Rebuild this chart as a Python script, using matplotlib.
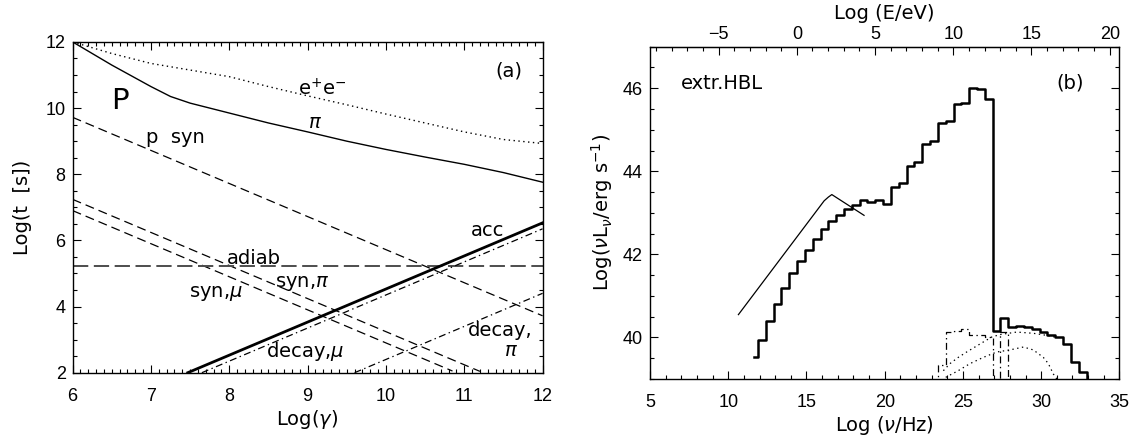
import numpy as np
import matplotlib.pyplot as plt
from matplotlib.ticker import MultipleLocator, FixedLocator

plt.rcParams['font.family'] = ['DejaVu Sans']
plt.rcParams['font.size'] = 14
plt.rcParams['lines.scale_dashes'] = False
plt.rcParams['mathtext.fontset'] = 'dejavusans'

# ---- panel (a): time scales vs Lorentz factor ----
gam_pi = [6, 6.5, 7, 7.25, 7.5, 8, 8.5, 9, 9.5, 10, 10.5, 11, 11.5, 12]
t_pi = [12.0, 11.3, 10.65, 10.35, 10.15, 9.85, 9.55, 9.28, 9.0, 8.75, 8.52, 8.3, 8.05, 7.76]

gam_ee = [6, 6.5, 7, 7.5, 8, 8.5, 9, 9.5, 10, 10.5, 11, 11.5, 12]
t_ee = [12.0, 11.65, 11.35, 11.15, 10.95, 10.65, 10.37, 10.1, 9.82, 9.55, 9.28, 9.05, 8.93]

gam_psyn = [6, 12]
t_psyn = [9.72, 3.72]
gam_synpi = [6, 11.2]
t_synpi = [7.24, 2.04]
gam_synmu = [6, 10.85]
t_synmu = [6.9, 2.05]
gam_adiab = [6, 12]
t_adiab = [5.23, 5.23]
gam_acc = [7.47, 12]
t_acc = [2.0, 6.53]
gam_decmu = [7.65, 12]
t_decmu = [2.0, 6.35]
gam_decpi = [9.6, 12]
t_decpi = [2.0, 4.4]

# ---- panel (b): spectrum of extreme HBL ----
lognu = [11.65, 12.15, 12.65, 13.15, 13.65, 14.15, 14.65, 15.15, 15.65, 16.15,
         16.65, 17.15, 17.65, 18.15, 18.65, 19.15, 19.65, 20.15, 20.65, 21.15,
         21.65, 22.15, 22.65, 23.15, 23.65, 24.15, 24.65, 25.15, 25.65, 26.15,
         26.65, 27.15, 27.65, 28.15, 28.65, 29.15, 29.65, 30.15, 30.65, 31.15,
         31.65, 32.15, 32.65, 33.15]
loglum = [39.52, 39.94, 40.39, 40.80, 41.20, 41.55, 41.84, 42.11, 42.37, 42.61,
          42.81, 42.96, 43.09, 43.20, 43.30, 43.26, 43.30, 43.21, 43.63, 43.71,
          44.13, 44.22, 44.65, 44.73, 45.16, 45.21, 45.63, 45.65, 46.01, 45.98,
          45.75, 40.15, 40.48, 40.25, 40.27, 40.25, 40.21, 40.14, 40.07, 40.00,
          39.85, 39.40, 39.16, 38.00]

obs_nu = [10.65, 16.13, 16.4, 16.62, 18.68]
obs_lum = [40.55, 43.29, 43.38, 43.44, 42.94]

dd1_nu = [22.65, 23.15, 23.65, 24.15, 24.65, 25.15, 25.65, 26.15, 26.65, 27.15]
dd1_lum = [38.0, 38.0, 39.34, 40.13, 40.15, 40.2, 40.07, 40.05, 40.0, 38.0]
dd2_nu = [27.15, 27.65, 28.15]
dd2_lum = [38.0, 40.13, 38.0]

dot1_nu = [23.75, 24.17, 24.7, 25.24, 25.77, 26.3, 26.84, 27.37, 28.44, 29.5, 30.36, 31.0]
dot1_lum = [39.2, 39.37, 39.52, 39.65, 39.77, 39.89, 40.01, 40.07, 40.13, 40.1, 40.05, 40.0]
dot2_nu = [23.9, 24.7, 25.45, 26.3, 27.16, 28.0, 28.87, 29.5, 30.14, 30.46, 30.78, 31.0]
dot2_lum = [39.04, 39.2, 39.37, 39.52, 39.65, 39.7, 39.77, 39.7, 39.52, 39.37, 39.12, 39.0]

E_ticks = [-5, 0, 5, 10, 15, 20]
E_OFFSET = 14.383  # log(h/eV s)

fig = plt.figure(figsize=(11.37, 4.41), dpi=100)
axa = fig.add_axes([0.0639, 0.1549, 0.4133, 0.750])
axb = fig.add_axes([0.5717, 0.1406, 0.4128, 0.7535])

short = (0, (6.5, 3.6))
dashdot = (0, (5, 2.5, 1, 2.5))

axa.plot(gam_pi, t_pi, color='k', lw=1.0)
axa.plot(gam_ee, t_ee, color='k', lw=1.0, linestyle=(0, (1, 2.5)))
axa.plot(gam_psyn, t_psyn, color='k', lw=0.9, linestyle=short)
axa.plot(gam_synpi, t_synpi, color='k', lw=0.9, linestyle=short)
axa.plot(gam_synmu, t_synmu, color='k', lw=0.9, linestyle=short)
axa.plot(gam_adiab, t_adiab, color='0.3', lw=1.4, linestyle=(0, (11, 4)))
axa.plot(gam_acc, t_acc, color='k', lw=2.0)
axa.plot(gam_decmu, t_decmu, color='k', lw=0.9, linestyle=dashdot)
axa.plot(gam_decpi, t_decpi, color='k', lw=0.9, linestyle=dashdot)

axa.text(11.57, 11.13, '(a)', ha='center', va='center')
axa.text(6.6, 10.2, 'P', ha='center', va='center', fontsize=21)
axa.text(9.18, 10.57, r'e$^{+}$e$^{-}$', ha='center', va='center')
axa.text(9.09, 9.55, r'$\pi$', ha='center', va='center')
axa.text(7.31, 9.1, 'p  syn', ha='center', va='center')
axa.text(11.3, 6.3, 'acc', ha='center', va='center')
axa.text(8.31, 5.44, 'adiab', ha='center', va='center')
axa.text(8.93, 4.7, r'syn,$\pi$', ha='center', va='center')
axa.text(7.83, 4.4, r'syn,$\mu$', ha='center', va='center')
axa.text(8.97, 2.63, r'decay,$\mu$', ha='center', va='center')
axa.text(11.46, 3.28, 'decay,', ha='center', va='center')
axa.text(11.6, 2.68, r'$\pi$', ha='center', va='center')

axa.set_xlim(6, 12)
axa.set_ylim(2, 12)
axa.xaxis.set_major_locator(MultipleLocator(1))
axa.xaxis.set_minor_locator(MultipleLocator(0.1))
axa.yaxis.set_major_locator(MultipleLocator(2))
axa.yaxis.set_minor_locator(MultipleLocator(0.5))
axa.set_xlabel(r'Log($\gamma$)', labelpad=2)
axa.set_ylabel('Log(t  [s])', labelpad=10)

axb.step(lognu, loglum, where='mid', color='k', lw=1.8)
axb.plot(obs_nu, obs_lum, color='k', lw=0.9)
axb.step(dd1_nu, dd1_lum, where='mid', color='k', lw=0.9, linestyle=dashdot)
axb.step(dd2_nu, dd2_lum, where='mid', color='k', lw=0.9, linestyle=dashdot)
axb.plot(dot1_nu, dot1_lum, color='k', lw=0.9, linestyle=(0, (1, 2.5)))
axb.plot(dot2_nu, dot2_lum, color='k', lw=0.9, linestyle=(0, (1, 2.5)))

axb.text(6.97, 46.12, 'extr.HBL', ha='left', va='center')
axb.text(31.87, 46.12, '(b)', ha='center', va='center')

axb.set_xlim(5, 35)
axb.set_ylim(39, 47)
axb.xaxis.set_major_locator(MultipleLocator(5))
axb.xaxis.set_minor_locator(MultipleLocator(1))
axb.yaxis.set_major_locator(MultipleLocator(2))
axb.yaxis.set_minor_locator(MultipleLocator(0.5))
axb.set_xlabel(r'Log ($\nu$/Hz)', labelpad=2)
axb.set_ylabel(r'Log($\nu$L$_{\nu}$/erg s$^{-1}$)', labelpad=6)

top = axb.secondary_xaxis('top', functions=(lambda x: x - E_OFFSET, lambda e: e + E_OFFSET))
top.xaxis.set_major_locator(FixedLocator(E_ticks))
top.xaxis.set_minor_locator(MultipleLocator(1))
top.xaxis.set_major_formatter(plt.FuncFormatter(lambda v, p: f'{v:g}'.replace('-', '\u2212')))
top.tick_params(which='major', direction='in', length=6, width=0.8, pad=3,
                labelsize=13, labelfontfamily='Liberation Sans')
top.tick_params(which='minor', direction='in', length=3, width=0.8)
# top axis title, placed in the parent axes frame
axb.text(0.5, 1.101, 'Log (E/eV)', transform=axb.transAxes, ha='center', va='center')

for ax in (axa, axb):
    ax.tick_params(which='both', direction='in', width=0.8)
    ax.tick_params(which='major', length=6, labelsize=13, labelfontfamily='Liberation Sans')
    ax.tick_params(which='minor', length=3)
    ax.tick_params(axis='x', pad=11)
    ax.tick_params(axis='y', pad=5)
    for s in ax.spines.values():
        s.set_linewidth(1.0)
axa.tick_params(which='both', top=True, right=True)
axb.tick_params(which='both', right=True)

fig.savefig('out.png', dpi=100)
